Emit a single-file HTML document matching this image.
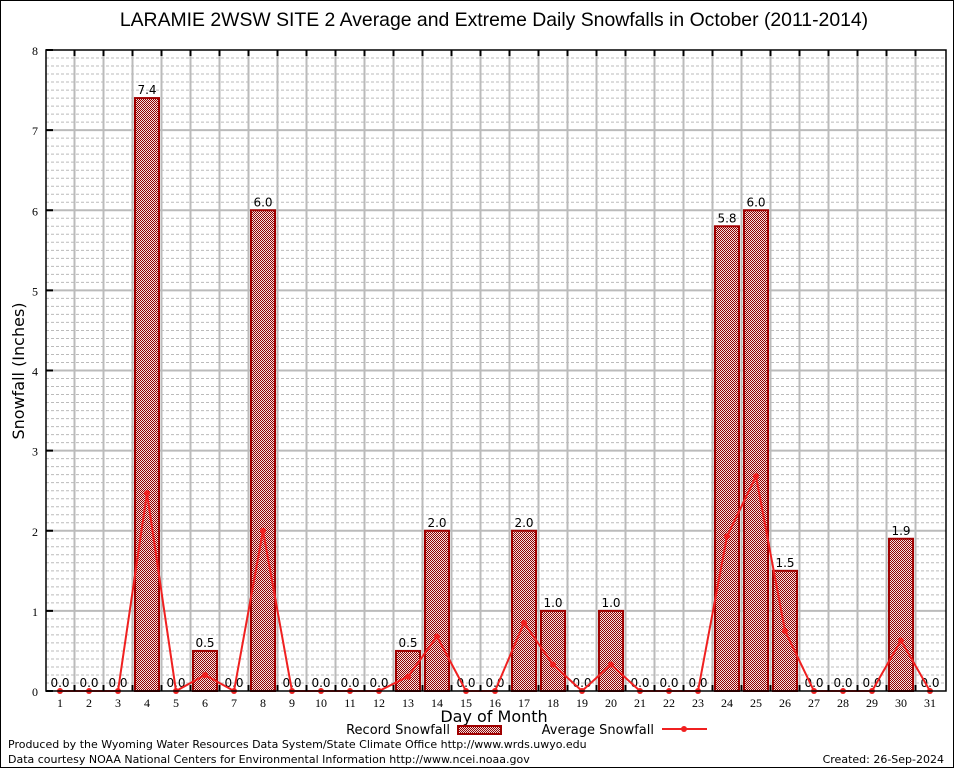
<!DOCTYPE html>
<html><head><meta charset="utf-8"><style>
body{margin:0;background:#fff}
svg{display:block;font-family:"DejaVu Sans","Liberation Sans",sans-serif}
</style></head><body>
<svg id="c" width="954" height="768" viewBox="0 0 954 768">
<defs>
<pattern id="chk" width="2" height="2" patternUnits="userSpaceOnUse">
<rect width="2" height="2" fill="#f4e0e0"/><rect width="1" height="1" fill="#900000"/><rect x="1" y="1" width="1" height="1" fill="#900000"/>
</pattern>
</defs>
<rect x="0.5" y="0.5" width="953" height="767" fill="#fff" stroke="#000"/>
<text x="494" y="26" text-anchor="middle" font-size="19.4" font-family="Liberation Sans,sans-serif">LARAMIE 2WSW SITE 2 Average and Extreme Daily Snowfalls in October (2011-2014)</text>
<g id="grid"></g>
<g id="bars"></g>
<g id="line"></g>
<g id="axes"></g>
<text x="24" y="371" transform="rotate(-90 24 371)" text-anchor="middle" font-size="16">Snowfall (Inches)</text>
<text x="494" y="722" text-anchor="middle" font-size="16">Day of Month</text>
<g>
<text x="450" y="734" text-anchor="end" font-size="13">Record Snowfall</text>
<rect x="458" y="726" width="43" height="8" fill="url(#chk)" stroke="#a00000" stroke-width="2"/>
<text x="654" y="734" text-anchor="end" font-size="13">Average Snowfall</text>
<line x1="662" y1="729" x2="707" y2="729" stroke="#f02020" stroke-width="2"/>
<circle cx="684" cy="729" r="3" fill="#f02020"/>
</g>
<text x="8" y="748" font-size="11">Produced by the Wyoming Water Resources Data System/State Climate Office http://www.wrds.uwyo.edu</text>
<text x="8" y="763" font-size="11">Data courtesy NOAA National Centers for Environmental Information http://www.ncei.noaa.gov</text>
<text x="944" y="763" text-anchor="end" font-size="11">Created: 26-Sep-2024</text>
</svg>
<script>
const days=[1,2,3,4,5,6,7,8,9,10,11,12,13,14,15,16,17,18,19,20,21,22,23,24,25,26,27,28,29,30,31];
const record=[0,0,0,7.4,0,0.5,0,6.0,0,0,0,0,0.5,2.0,0,0,2.0,1.0,0,1.0,0,0,0,5.8,6.0,1.5,0,0,0,1.9,0];
const average=[0,0,0,2.47,0,0.2,0,2.0,0,0,0,0,0.18,0.68,0,0,0.85,0.33,0,0.33,0,0,0,1.93,2.68,0.75,0,0,0,0.63,0];
const yTicks=[0,1,2,3,4,5,6,7,8];
const NS="http://www.w3.org/2000/svg";
const L=46,R=946,T=50,B=691,yMax=8;
const x=d=>60+(d-1)*29;
const y=v=>B-(v/yMax)*(B-T);
function mk(tag,attrs,parent,txt){const e=document.createElementNS(NS,tag);for(const k in attrs)e.setAttribute(k,attrs[k]);if(txt!==undefined)e.textContent=txt;parent.appendChild(e);return e;}
const g=document.getElementById('grid'),gb=document.getElementById('bars'),gl=document.getElementById('line'),ga=document.getElementById('axes');
for(let i=1;i<yMax*10;i++){if(i%10===0)continue;const l=mk('line',{x1:L,x2:R,y1:y(i/10),y2:y(i/10),stroke:'#bbb','stroke-dasharray':'3,2'},g);

}
yTicks.forEach(t=>{if(t>0&&t<yMax){const l=mk('line',{x1:L,x2:R,y1:y(t),y2:y(t),stroke:'#bbb','stroke-width':2},g);

}
const tl=mk('text',{x:38,y:y(t)+5,'text-anchor':'end','font-size':12,'font-family':'Liberation Serif,serif'},ga,String(t));


const tk=mk('line',{x1:L,x2:L+7,y1:y(t),y2:y(t),stroke:'#000','stroke-width':2},ga);

});
days.forEach((d,i)=>{if(i<days.length-1){const l=mk('line',{x1:x(d)+14.5,x2:x(d)+14.5,y1:T,y2:B,stroke:'#bbb','stroke-width':2},g);


const tk=mk('line',{x1:x(d)+14.5,x2:x(d)+14.5,y1:T,y2:T+6,stroke:'#000','stroke-width':2},ga);


const tb=mk('line',{x1:x(d)+14.5,x2:x(d)+14.5,y1:B,y2:B-6,stroke:'#000','stroke-width':2},ga);

}
const tl=mk('text',{x:x(d),y:B+16,'text-anchor':'middle','font-size':12,'font-family':'Liberation Serif,serif'},ga,String(d));


const v=record[i];
if(v>0){const b=mk('rect',{x:x(d)-12,y:y(v),width:24,height:B-y(v),fill:'url(#chk)',stroke:'#a00000','stroke-width':2},gb);

}
const lb=mk('text',{x:x(d),y:y(v)-4,'text-anchor':'middle','font-size':12},gb,v.toFixed(1));

});
const pl=mk('polyline',{points:days.map((d,i)=>x(d)+','+y(average[i])).join(' '),fill:'none',stroke:'#f02020','stroke-width':2},gl);


days.forEach((d,i)=>{const c=mk('circle',{cx:x(d),cy:y(average[i]),r:3,fill:'#f02020'},gl);

});
const fr=mk('rect',{x:L,y:T,width:R-L,height:B-T,fill:'none',stroke:'#000','stroke-width':1.5},ga);


</script>
</body></html>
